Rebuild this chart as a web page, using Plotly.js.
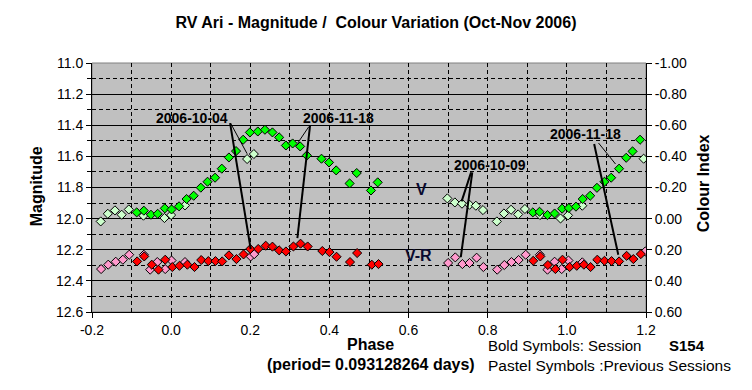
<!DOCTYPE html>
<html><head><meta charset="utf-8">
<script src="https://cdn.plot.ly/plotly-3.0.1.min.js"></script>
<style>html,body{margin:0;padding:0;background:#fff}#chart{width:752px;height:390px}</style>
</head><body><div id="chart"></div>
<script>
// V magnitude, current session (bold green)
const vBoldPhase = [-0.087,-0.069,-0.051,-0.034,-0.016,0.001,0.020,0.039,0.057,0.075,0.092,0.111,0.128,0.146,0.164,0.182,0.199,0.219,0.237,0.256,0.273,0.290,0.307,0.326,0.343,0.380,0.399,0.417,0.451,0.469,0.505,0.522,0.914,0.931,0.951,0.969,0.988,1.005,1.023,1.040,1.059,1.076,1.095,1.112,1.132,1.150,1.166,1.185];
const vBoldMag = [11.960,11.949,11.975,11.969,11.934,11.941,11.921,11.874,11.853,11.801,11.763,11.737,11.679,11.607,11.566,11.493,11.446,11.440,11.429,11.446,11.478,11.530,11.517,11.536,11.594,11.615,11.639,11.690,11.774,11.707,11.819,11.767,11.960,11.956,11.977,11.967,11.936,11.932,11.923,11.874,11.853,11.802,11.763,11.737,11.679,11.609,11.568,11.493];
// V magnitude, previous sessions (pastel green)
const vPrevPhase = [-0.178,-0.160,-0.142,-0.125,-0.107,-0.070,-0.017,0.000,0.035,0.192,0.209,0.698,0.717,0.735,0.754,0.770,0.788,0.823,0.841,0.859,0.877,0.894,0.932,0.984,1.003,1.039,1.194];
const vPrevMag = [12.018,11.969,11.947,11.975,11.941,11.981,11.996,11.977,11.915,11.617,11.585,11.870,11.896,11.904,11.911,11.917,11.945,12.018,11.967,11.943,11.973,11.938,11.977,11.999,11.979,11.917,11.615];
// V-R colour index, current session (bold red)
const vrBoldPhase = [-0.086,-0.068,-0.049,-0.032,-0.015,0.003,0.021,0.041,0.059,0.076,0.094,0.112,0.129,0.146,0.165,0.183,0.200,0.220,0.239,0.256,0.273,0.290,0.309,0.327,0.345,0.382,0.400,0.418,0.452,0.470,0.507,0.524,0.915,0.933,0.952,0.971,0.989,1.007,1.025,1.043,1.060,1.077,1.095,1.113,1.132,1.151,1.168,1.187];
const vrBoldCI = [0.275,0.243,0.296,0.328,0.264,0.311,0.303,0.296,0.311,0.266,0.273,0.273,0.275,0.236,0.260,0.230,0.195,0.195,0.174,0.180,0.204,0.211,0.179,0.161,0.179,0.208,0.215,0.245,0.279,0.221,0.296,0.292,0.271,0.243,0.298,0.324,0.264,0.311,0.303,0.296,0.311,0.264,0.271,0.273,0.275,0.239,0.260,0.228];
// V-R colour index, previous sessions (pastel pink)
const vrPrevPhase = [-0.177,-0.159,-0.140,-0.122,-0.106,-0.069,-0.053,-0.035,-0.015,0.001,0.035,0.201,0.210,0.700,0.718,0.736,0.754,0.772,0.789,0.824,0.842,0.860,0.878,0.896,0.932,0.951,0.969,0.987,1.004,1.039,1.198];
const vrPrevCI = [0.324,0.296,0.277,0.264,0.232,0.232,0.328,0.279,0.324,0.269,0.279,0.243,0.228,0.285,0.249,0.292,0.285,0.251,0.311,0.328,0.298,0.279,0.266,0.232,0.232,0.328,0.277,0.324,0.269,0.281,0.211];

const xTickVals = [-0.2,0.0,0.2,0.4,0.6,0.8,1.0,1.2];
const xTickText = ["-0.2","0.0","0.2","0.4","0.6","0.8","1.0","1.2"];
const yTickVals = [11.0,11.2,11.4,11.6,11.8,12.0,12.2,12.4,12.6];
const yTickText = ["11.0","11.2","11.4","11.6","11.8","12.0","12.2","12.4","12.6"];
const y2TickVals = [-1.0,-0.8,-0.6,-0.4,-0.2,0.0,0.2,0.4,0.6];
const y2TickText = ["-1.00","-0.80","-0.60","-0.40","-0.20","0.00","0.20","0.40","0.60"];

// session date labels: [text, phase, magnitude]
const dateLabels = [["2006-10-04",0.053,11.353],["2006-11-18",0.422,11.353],["2006-10-09",0.806,11.654],["2006-11-18",1.046,11.456]];
// leader lines: [x0,y0,x1,y1,width]
const leaders = [
 [0.149,11.386,0.201,12.195,2],[0.150,11.386,0.192,11.583,1],
 [0.351,11.403,0.319,12.125,2],[0.348,11.409,0.320,11.514,1],
 [0.758,11.703,0.734,11.889,2],[0.761,11.703,0.732,12.247,2],
 [1.069,11.521,1.130,12.232,2],[1.080,11.514,1.123,11.649,1]
];

const FONT = 'Liberation Sans, Arial, sans-serif';
const mk = (fill) => ({symbol:'diamond', size:7, color:fill, line:{color:'#000', width:1}});
const traces = [
 {x:vPrevPhase, y:vPrevMag, mode:'markers', type:'scatter', marker:mk('#CCFFCC'), yaxis:'y', hoverinfo:'none'},
 {x:vrPrevPhase, y:vrPrevCI, mode:'markers', type:'scatter', marker:mk('#FF99CC'), yaxis:'y2', hoverinfo:'none'},
 {x:vBoldPhase, y:vBoldMag, mode:'markers', type:'scatter', marker:mk('#00FF00'), yaxis:'y', hoverinfo:'none'},
 {x:vrBoldPhase, y:vrBoldCI, mode:'markers', type:'scatter', marker:mk('#FF0000'), yaxis:'y2', hoverinfo:'none'}
];

const shapes = [{type:'rect', xref:'paper', yref:'paper', x0:0, x1:1, y0:0, y1:1, line:{color:'#808080', width:1}, layer:'below'}];
leaders.forEach(l => shapes.push({type:'line', xref:'x', yref:'y', x0:l[0], y0:l[1], x1:l[2], y1:l[3], line:{color:'#000', width:l[4]}}));

const annotations = [];
const A = (o) => { o.showarrow = false; o.borderpad = 0; annotations.push(o); };
dateLabels.forEach(d => A({text:'<b>'+d[0]+'</b>', x:d[1], y:d[2], xref:'x', yref:'y', font:{family:FONT, size:14, color:'#000'}}));
A({text:'<b>V</b>', x:0.633, y:11.814, xref:'x', yref:'y', font:{family:FONT, size:16, color:'#0a0a30'}});
A({text:'<b>V-R</b>', x:0.625, y:12.238, xref:'x', yref:'y', font:{family:FONT, size:16, color:'#0a0a30'}});
const P = (px) => (px-92)/554, Q = (py) => (312-py)/248.7;
A({text:'<b>Magnitude</b>', x:P(27), y:Q(187), xref:'paper', yref:'paper', textangle:-90, font:{family:FONT, size:16, color:'#000'}});
A({text:'<b>Colour Index</b>', x:P(713), y:Q(184), xref:'paper', yref:'paper', textangle:-90, font:{family:FONT, size:16, color:'#000'}});
A({text:'<b>Phase</b>', x:P(370), y:Q(354), xref:'paper', yref:'paper', font:{family:FONT, size:16, color:'#000'}});
A({text:'<b>(period= 0.093128264 days)</b>', x:P(371), y:Q(374), xref:'paper', yref:'paper', font:{family:FONT, size:16, color:'#000'}});
A({text:'Bold Symbols: Session', x:P(487), y:Q(355), xref:'paper', yref:'paper', xanchor:'left', font:{family:FONT, size:15, color:'#000'}});
A({text:'<b>S154</b>', x:P(668), y:Q(355), xref:'paper', yref:'paper', xanchor:'left', font:{family:FONT, size:15, color:'#000'}});
A({text:'Pastel Symbols :Previous Sessions', x:P(487), y:Q(375), xref:'paper', yref:'paper', xanchor:'left', font:{family:FONT, size:15.5, color:'#000'}});

const layout = {
 width:752, height:390,
 margin:{l:92, r:106, t:63, b:78, pad:0},
 paper_bgcolor:'#fff', plot_bgcolor:'#C0C0C0',
 showlegend:false,
 title:{text:'<b>RV Ari - Magnitude /  Colour Variation (Oct-Nov 2006)</b>', x:376/752, xanchor:'center', y:1-22/390, yanchor:'middle', font:{family:FONT, size:16, color:'#000'}},
 xaxis:{range:[-0.2,1.2], tickmode:'array', tickvals:xTickVals, ticktext:xTickText, showgrid:true, gridcolor:'#000', gridwidth:1, griddash:'4px,3px',
   minor:{dtick:0.1, tick0:0, showgrid:true, gridcolor:'#000', gridwidth:1, griddash:'4px,3px', ticks:''},
   ticks:'outside', ticklen:5, tickcolor:'#000', showline:true, linecolor:'#000', linewidth:1, zeroline:false,
   tickfont:{family:FONT, size:14, color:'#000'}},
 yaxis:{range:[12.6,11.0], tickmode:'array', tickvals:yTickVals, ticktext:yTickText, showgrid:true, gridcolor:'#000', gridwidth:1,
   minor:{dtick:0.1, tick0:11.0, showgrid:true, gridcolor:'#000', gridwidth:1, griddash:'4px,3px', ticks:'outside', ticklen:4, tickcolor:'#000'},
   ticks:'outside', ticklen:5, tickcolor:'#000', showline:true, linecolor:'#000', linewidth:1, zeroline:false,
   tickfont:{family:FONT, size:14, color:'#000'}},
 yaxis2:{range:[0.6,-1.0], overlaying:'y', side:'right', tickmode:'array', tickvals:y2TickVals, ticktext:y2TickText, showgrid:false,
   ticks:'outside', ticklen:5, tickcolor:'#000', showline:true, linecolor:'#000', linewidth:1, zeroline:false,
   tickfont:{family:FONT, size:14, color:'#000'}},
 shapes:shapes, annotations:annotations
};
Plotly.newPlot('chart', traces, layout, {staticPlot:true, displayModeBar:false});
</script></body></html>
